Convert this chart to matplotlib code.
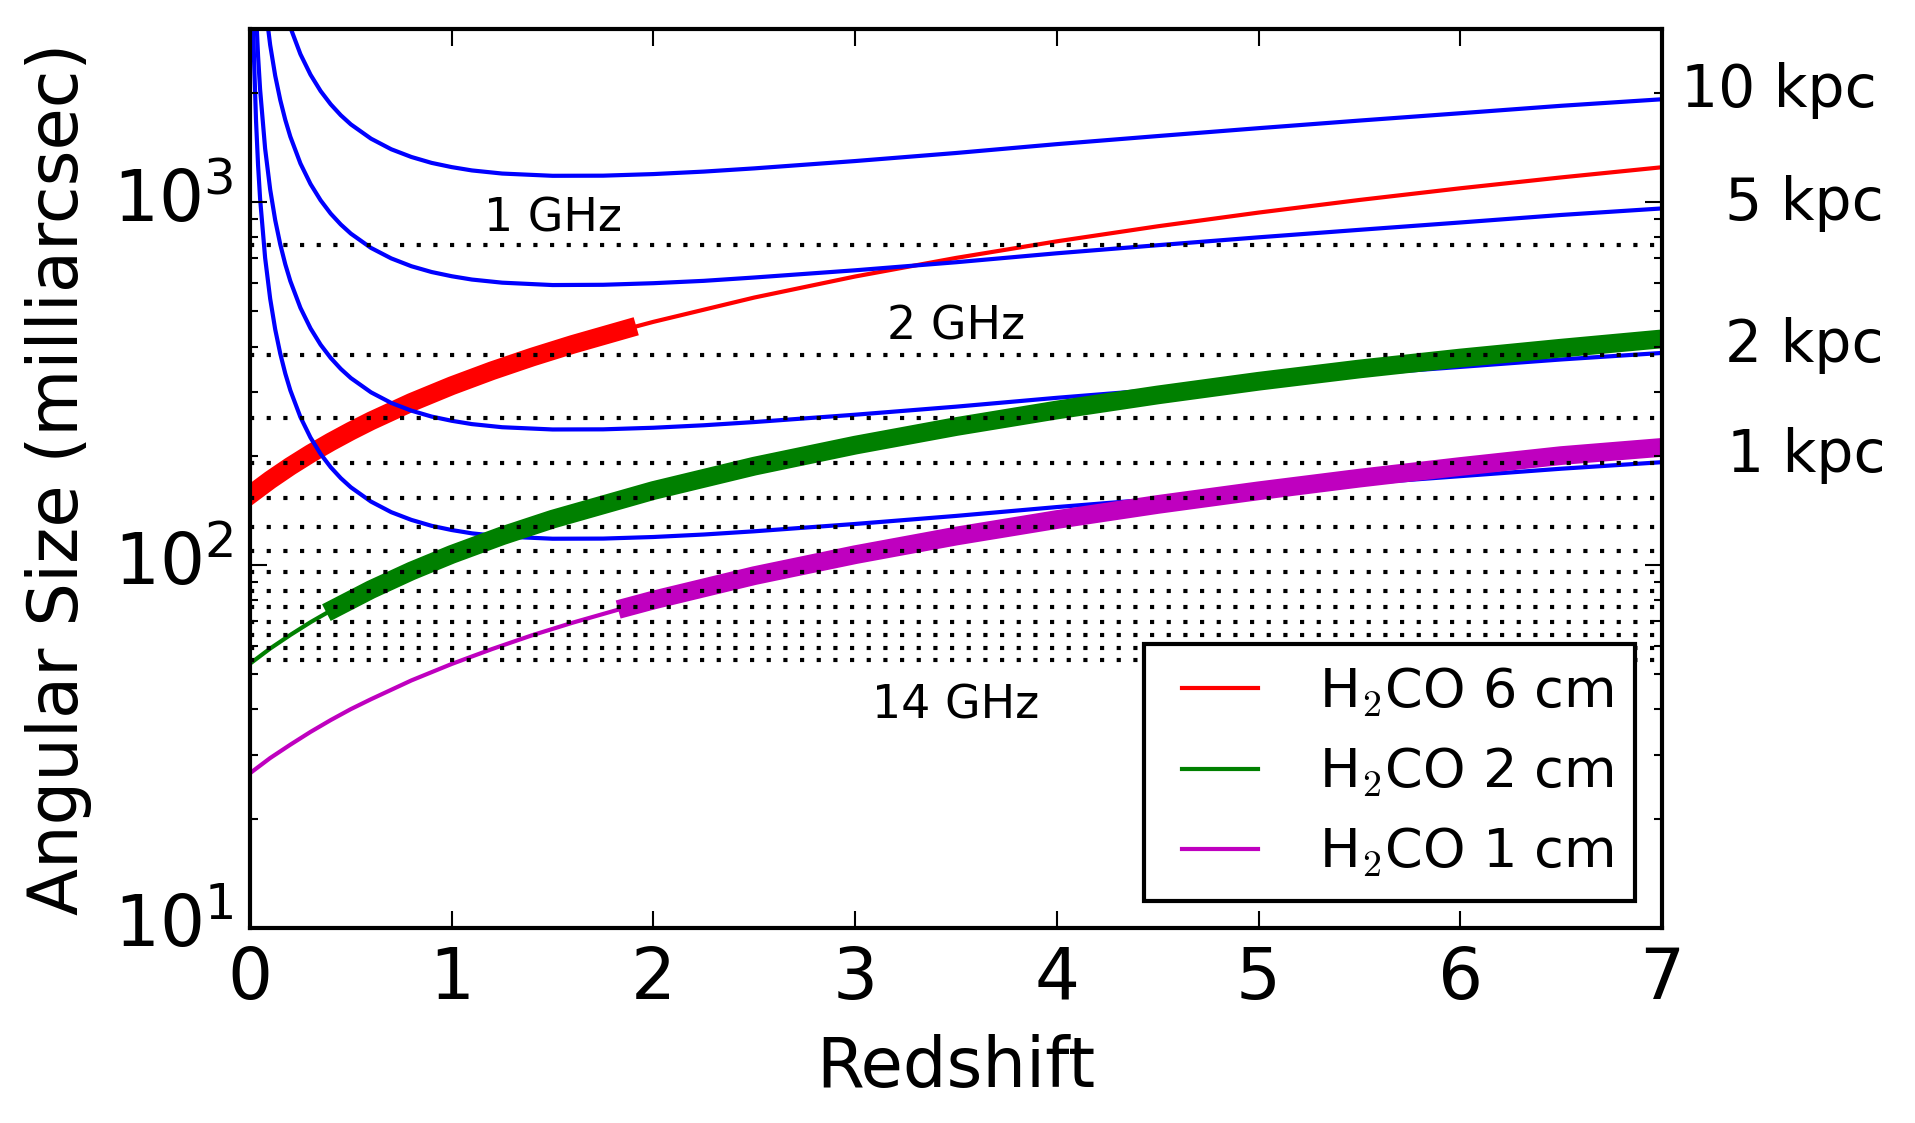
import numpy as np
import matplotlib
matplotlib.use('Agg')
import matplotlib.pyplot as plt

plt.style.use('classic')

# redshift grid for the physical-size curves
z_size = [0.01, 0.015, 0.02, 0.03, 0.04, 0.05, 0.075, 0.1, 0.125, 0.15, 0.175, 0.2, 0.25, 0.3,
          0.35, 0.4, 0.45, 0.5, 0.6, 0.7, 0.8, 0.9, 1.0, 1.1, 1.25, 1.5, 1.75, 2.0, 2.25, 2.5,
          3.0, 3.5, 4.0, 4.5, 5.0, 5.5, 6.0, 6.5, 7.0]
# angular size (mas) of 1, 2, 5, 10 kpc
size_1kpc = [4880, 3265, 2470, 1670, 1264, 1023, 702, 542, 446, 382.5, 337, 303, 255.7, 224.5,
             202.4, 186.1, 173.6, 163.8, 149.6, 139.9, 133.2, 128.3, 124.9, 122.3, 119.9, 118.2, 118.3, 119.5, 121.4, 123.9,
             129.8, 136.6, 144.5, 152.1, 159.9, 167.8, 175.8, 184.3, 192.1]
size_2kpc = [9760, 6530, 4940, 3340, 2528, 2046, 1404, 1084, 892, 765, 674, 606, 511.4, 449,
             404.8, 372.2, 347.2, 327.6, 299.2, 279.8, 266.4, 256.6, 249.8, 244.6, 239.8, 236.4, 236.6, 239, 242.8, 247.8,
             259.6, 273.2, 289, 304.2, 319.8, 335.6, 351.6, 368.6, 384.2]
size_5kpc = [24400, 16325, 12350, 8350, 6320, 5115, 3510, 2710, 2230, 1912, 1685, 1515, 1278, 1122,
             1012, 930, 868, 819, 748, 700, 666, 642, 625, 612, 600, 591, 592, 598, 607, 620,
             649, 683, 723, 761, 800, 839, 879, 922, 961]
size_10kpc = [48800, 32650, 24700, 16700, 12640, 10230, 7020, 5420, 4460, 3825, 3370, 3030, 2557, 2245,
              2024, 1861, 1736, 1638, 1496, 1399, 1332, 1283, 1249, 1223, 1199, 1182, 1183, 1195, 1214, 1239,
              1298, 1366, 1445, 1521, 1599, 1678, 1758, 1843, 1921]

# H2CO lines: beam size at the observed frequency
z_6cm = [0, 0.1, 0.2, 0.3, 0.4, 0.5, 0.6, 0.8, 1.0, 1.2, 1.4, 1.6, 1.87, 2.0, 2.5, 3.0,
         3.5, 4.0, 4.5, 5.0, 5.5, 6.0, 6.5, 7.0]
th_6cm = [156, 171.6, 187.2, 202.8, 218.4, 234, 249.6, 280.8, 312, 343.2, 374.4, 405.6, 447.7, 468, 546, 624,
          702, 780, 858, 936, 1014, 1092, 1170, 1248]
z_2cm = [0, 0.1, 0.2, 0.3, 0.42, 0.6, 0.8, 1.0, 1.25, 1.5, 2.0, 2.5, 3.0, 3.5, 4.0, 4.5,
         5.0, 5.5, 6.0, 6.5, 7.0]
th_2cm = [53.5, 58.9, 64.2, 69.6, 76, 85.6, 96.3, 107, 120.4, 133.8, 160.5, 187.3, 214, 240.8, 267.5, 294.3,
          321, 347, 372, 396, 420]
z_1cm = [0, 0.1, 0.2, 0.3, 0.4, 0.5, 0.6, 0.8, 1.0, 1.2, 1.4, 1.6, 1.87, 2.0, 2.5, 3.0,
         3.5, 4.0, 4.5, 5.0, 5.5, 6.0, 6.5, 7.0]
th_1cm = [26.7, 29.4, 32.0, 34.7, 37.4, 40.1, 42.7, 48.1, 53.4, 58.7, 64.1, 69.4, 76.6, 80.1, 93.5, 106.8,
          120.2, 133.5, 146.9, 160.2, 173.6, 186.9, 200.3, 211]
# redshift ranges drawn thick
thick_6cm = (0, 1.87)
thick_2cm = (0.42, 7.0)
thick_1cm = (1.87, 7.0)

# resolution at 1..14 GHz (mas)
res_levels = [760, 380, 254, 191, 153, 127, 109, 95.5, 85, 76.5, 69.5, 64, 59, 54.6]

kpc_labels = ['10 kpc', '5 kpc', '2 kpc', '1 kpc']
kpc_lab_x = [7.095, 7.31, 7.31, 7.32]
kpc_lab_y = [2035, 993, 404, 200.6]

ghz_labels = ['1 GHz', '2 GHz', '14 GHz']
ghz_lab_x = [1.5, 3.5, 3.5]
ghz_lab_y = [898, 452, 41]


def thickpart(z, th, rng):
    z = np.array(z)
    th = np.array(th)
    m = (z >= rng[0] - 1e-9) & (z <= rng[1] + 1e-9)
    return z[m], th[m]


fig = plt.figure(figsize=(1915/300., 1123/300.), dpi=300, facecolor='white')
ax = fig.add_axes([250/1915., 1-928/1123., 1412/1915., 899/1123.])

# 6 cm
ax.plot(z_6cm, th_6cm, 'r-', lw=1, label='H$_2$CO 6 cm')
zz, tt = thickpart(z_6cm, th_6cm, thick_6cm)
ax.plot(zz, tt, 'r-', lw=4.5)

# physical sizes
for s in [size_10kpc, size_5kpc, size_2kpc, size_1kpc]:
    ax.plot(z_size, s, 'b-', lw=1)

# 2 cm
ax.plot(z_2cm, th_2cm, 'g-', lw=1, label='H$_2$CO 2 cm')
zz, tt = thickpart(z_2cm, th_2cm, thick_2cm)
ax.plot(zz, tt, 'g-', lw=4.5)

# 1 cm
ax.plot(z_1cm, th_1cm, 'm-', lw=1, label='H$_2$CO 1 cm')
zz, tt = thickpart(z_1cm, th_1cm, thick_1cm)
ax.plot(zz, tt, 'm-', lw=4.5)

ax.hlines(res_levels, 0, 7, colors='k', linestyles=':', lw=1)

ax.set_yscale('log')
ax.set_xlim(0, 7)
ax.set_ylim(10, 3000)
ax.set_xticks(range(8))

for lab, x, y in zip(kpc_labels, kpc_lab_x, kpc_lab_y):
    ax.text(x, y, lab, fontsize=14, ha='left', va='center')
for lab, x, y in zip(ghz_labels, ghz_lab_x, ghz_lab_y):
    ax.text(x, y, lab, fontsize=11, ha='center', va='center')

ax.set_xlabel('Redshift', fontsize=16.5)
ax.set_ylabel('Angular Size (milliarcsec)', fontsize=16.5)
ax.tick_params(axis='both', which='major', labelsize=17)

leg = ax.legend(loc='lower right', fontsize=13, handlelength=2.0, handletextpad=0.83)
leg.get_frame().set_linewidth(1.0)

fig.savefig('out.png', dpi=300, facecolor='white')
